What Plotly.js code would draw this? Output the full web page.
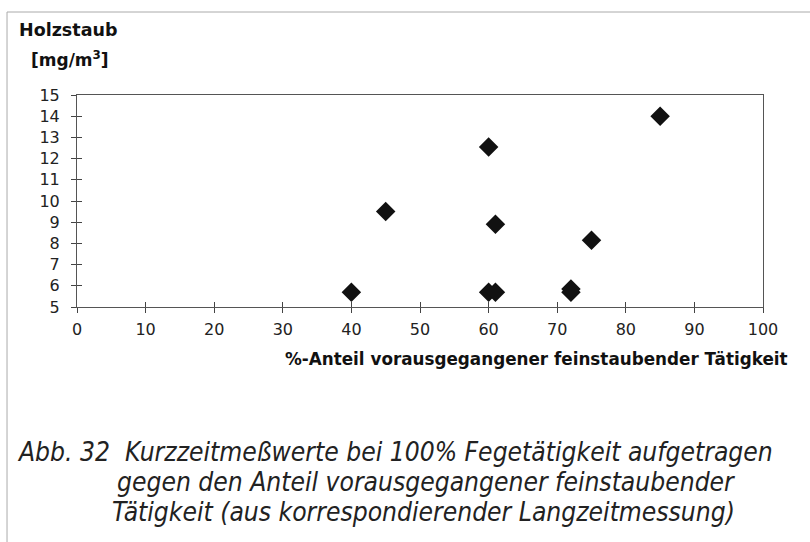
<!DOCTYPE html>
<html>
<head>
<meta charset="utf-8">
<script src="https://cdn.plot.ly/plotly-3.0.1.min.js"></script>
<style>html,body{margin:0;padding:0;background:#fff;}#chart{width:810px;height:542px;}</style>
</head>
<body>
<div id="chart"></div>
<script>
var anteil = [40, 45, 60, 60, 61, 61, 72, 72, 75, 85];
var holzstaub = [5.7, 9.5, 12.55, 5.7, 8.9, 5.7, 5.7, 5.85, 8.15, 14.0];
var xTicks = [0, 10, 20, 30, 40, 50, 60, 70, 80, 90, 100];
var yTicks = [5, 6, 7, 8, 9, 10, 11, 12, 13, 14, 15];
var yTitle1 = "Holzstaub";
var yTitle2 = "[mg/m<sup>3</sup>]";
var xTitle = "%-Anteil vorausgegangener feinstaubender Tätigkeit";
var caption = [
  "Abb. 32  Kurzzeitmeßwerte bei 100% Fegetätigkeit aufgetragen",
  "gegen den Anteil vorausgegangener feinstaubender",
  "Tätigkeit (aus korrespondierender Langzeitmessung)"
];

var F = 'DejaVu Sans, Arial, sans-serif';
var FC = 'DejaVu Sans Condensed, DejaVu Sans, sans-serif';

var axisCommon = {showgrid:false, zeroline:false, linecolor:'#555', linewidth:1,
  tickcolor:'#444', tickwidth:1, ticklen:5, tickmode:'array',
  tickfont:{family:F, size:16, color:'#222'}};

var layout = {
  width:810, height:542,
  margin:{l:77, r:47, t:95, b:235},
  paper_bgcolor:'#fff', plot_bgcolor:'#fff',
  showlegend:false,
  xaxis: Object.assign({}, axisCommon, {range:[0,100], tickvals:xTicks, ticktext:xTicks.map(String),
    ticks:'outside', showline:true, mirror:true, ticklabelstandoff:3}),
  yaxis: Object.assign({}, axisCommon, {range:[5,15], tickvals:yTicks, ticktext:yTicks.map(String),
    ticks:'outside', showline:true, mirror:true, ticklabelstandoff:8}),
  xaxis2: Object.assign({}, axisCommon, {range:[0,100], tickvals:xTicks, overlaying:'x', side:'bottom',
    ticks:'inside', showticklabels:false, showline:false}),
  yaxis2: Object.assign({}, axisCommon, {range:[5,15], tickvals:yTicks, overlaying:'y', side:'left',
    ticks:'inside', showticklabels:false, showline:false}),
  shapes:[
    {type:'line', xref:'paper', yref:'paper', x0:-0.102, x1:1.07, y0:1.3915, y1:1.3915, line:{color:'#aaa', width:1}},
    {type:'line', xref:'paper', yref:'paper', x0:-0.102, x1:-0.102, y0:1.3915, y1:-1.11, line:{color:'#aaa', width:1}}
  ],
  annotations:[
    {text:'<b>'+yTitle1+'</b>', xref:'paper', yref:'paper', x:-0.088, y:1.307, xanchor:'left', yanchor:'middle', showarrow:false,
     font:{family:F, size:17.5, color:'#111'}},
    {text:'<b>'+yTitle2+'</b>', xref:'paper', yref:'paper', x:-0.07, y:1.172, xanchor:'left', yanchor:'middle', showarrow:false,
     font:{family:F, size:17, color:'#111'}},
    {text:'<b>'+xTitle+'</b>', xref:'paper', yref:'paper', x:1.04, y:-0.245, xanchor:'right', yanchor:'middle', showarrow:false,
     font:{family:F, size:16.8, color:'#111'}},
    {text:'<i>'+caption[0]+'</i>', xref:'paper', yref:'paper', x:-0.09, y:-0.684, xanchor:'left', yanchor:'middle', showarrow:false,
     font:{family:FC, size:26.2, color:'#222'}},
    {text:'<i>'+caption[1]+'</i>', xref:'paper', yref:'paper', x:0.055, y:-0.826, xanchor:'left', yanchor:'middle', showarrow:false,
     font:{family:FC, size:26.2, color:'#222'}},
    {text:'<i>'+caption[2]+'</i>', xref:'paper', yref:'paper', x:0.048, y:-0.968, xanchor:'left', yanchor:'middle', showarrow:false,
     font:{family:FC, size:26.2, color:'#222'}}
  ]
};

var traces = [
  {x:anteil, y:holzstaub, type:'scatter', mode:'markers', xaxis:'x', yaxis:'y',
   marker:{symbol:'diamond', size:15, color:'#111', line:{width:0}}},
  {x:[], y:[], type:'scatter', mode:'markers', xaxis:'x2', yaxis:'y2'}
];

Plotly.newPlot('chart', traces, layout, {displayModeBar:false, staticPlot:true});
</script>
</body>
</html>
